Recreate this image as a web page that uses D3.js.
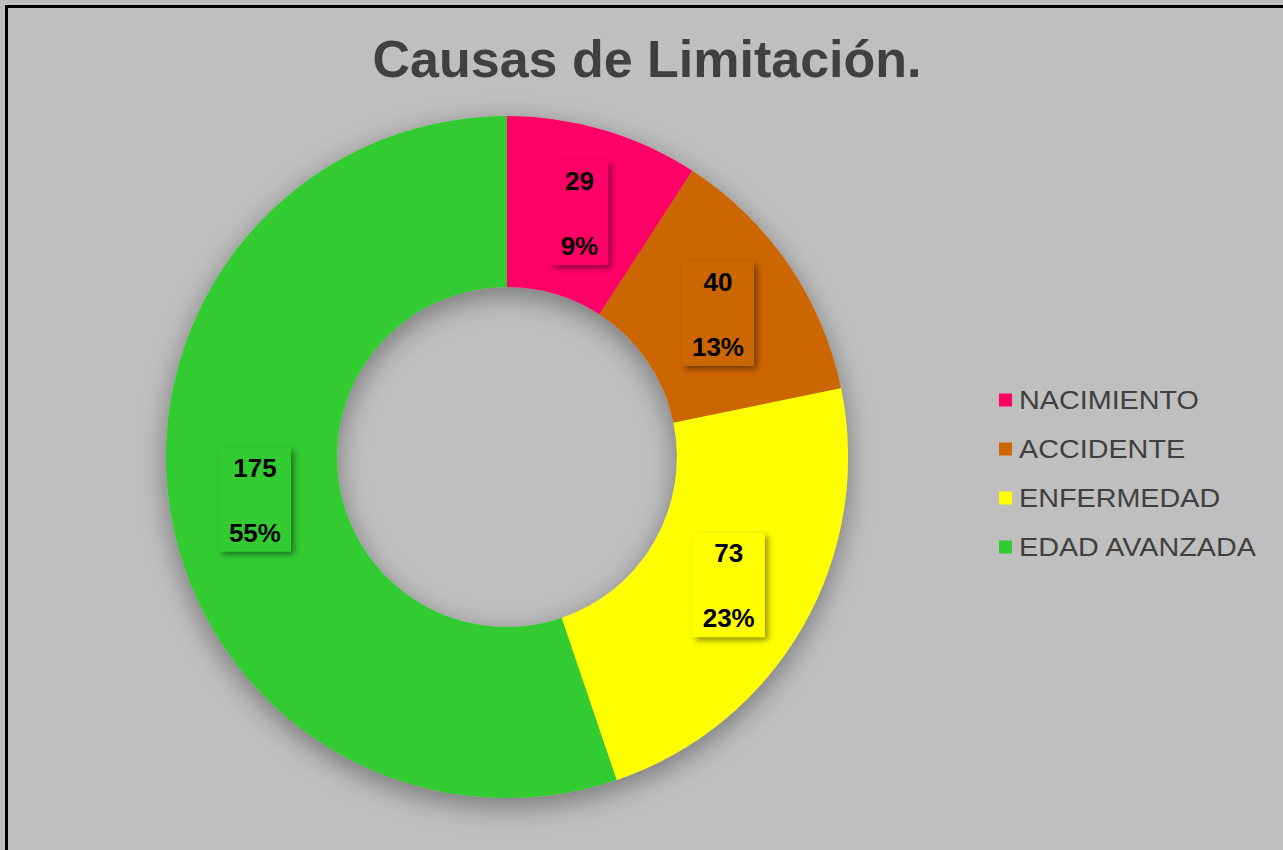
<!DOCTYPE html>
<html>
<head>
<meta charset="utf-8">
<script src="https://cdn.jsdelivr.net/npm/d3@7"></script>
<style>
  html, body { margin: 0; padding: 0; background: #fff; }
  svg { display: block; font-family: "Liberation Sans", Arial, sans-serif; }
</style>
</head>
<body>
<div id="chart"></div>
<script>
const categories = ["NACIMIENTO", "ACCIDENTE", "ENFERMEDAD", "EDAD AVANZADA"];
const values = [29, 40, 73, 175];
const colors = ["#FF0066", "#CC6600", "#FFFF00", "#33CC33"];
const title = "Causas de Limitación.";

const width = 1283, height = 850;
const cx = 507, cy = 457, outerR = 341, innerR = 170;

const svg = d3.select("#chart").append("svg")
  .attr("width", width)
  .attr("height", height);

const defs = svg.append("defs");
const ringShadow = defs.append("filter").attr("id", "ringShadow")
  .attr("x", "-20%").attr("y", "-20%").attr("width", "140%").attr("height", "140%");
ringShadow.append("feDropShadow")
  .attr("dx", 0).attr("dy", 8).attr("stdDeviation", 14)
  .attr("flood-color", "#000").attr("flood-opacity", 0.38);

const boxShadow = defs.append("filter").attr("id", "boxShadow")
  .attr("x", "-30%").attr("y", "-30%").attr("width", "160%").attr("height", "160%");
boxShadow.append("feDropShadow")
  .attr("dx", 3).attr("dy", 3).attr("stdDeviation", 3)
  .attr("flood-color", "#000").attr("flood-opacity", 0.45);

// background and frame (right/bottom edges fall outside the picture)
svg.append("rect")
  .attr("width", width).attr("height", height)
  .attr("fill", "#BFBFBF");
svg.append("rect")
  .attr("x", 6.5).attr("y", 6.5)
  .attr("width", width + 20).attr("height", height + 20)
  .attr("fill", "none").attr("stroke", "#000").attr("stroke-width", 3);

svg.append("text")
  .attr("x", 647).attr("y", 77)
  .attr("text-anchor", "middle")
  .attr("font-size", 52).attr("font-weight", "bold")
  .attr("fill", "#404040")
  .text(title);

const total = d3.sum(values);
const pie = d3.pie().sort(null).value((d) => d.value);
const arc = d3.arc().innerRadius(innerR).outerRadius(outerR);
const data = categories.map((c, i) => ({ name: c, value: values[i], color: colors[i] }));
const arcs = pie(data);

const g = svg.append("g").attr("transform", `translate(${cx},${cy})`);

g.append("g")
  .attr("filter", "url(#ringShadow)")
  .selectAll("path")
  .data(arcs)
  .join("path")
  .attr("d", arc)
  .attr("fill", (d) => d.data.color);

const pct = d3.format(".0%");
const labels = g.selectAll("g.lbl")
  .data(arcs)
  .join("g")
  .attr("class", "lbl")
  .attr("transform", (d) => `translate(${arc.centroid(d)})`);

labels.each(function (d) {
  const sel = d3.select(this);
  const box = sel.append("rect").attr("fill", d.data.color).attr("filter", "url(#boxShadow)");
  const t1 = sel.append("text")
    .attr("y", -22)
    .attr("text-anchor", "middle")
    .attr("font-size", 26).attr("font-weight", "bold").attr("fill", "#000")
    .text(d.data.value);
  const t2 = sel.append("text")
    .attr("y", 43)
    .attr("text-anchor", "middle")
    .attr("font-size", 26).attr("font-weight", "bold").attr("fill", "#000")
    .text(pct(d.data.value / total));
  const w = Math.max(t1.node().getComputedTextLength(), t2.node().getComputedTextLength()) + 20;
  box.attr("x", -w / 2).attr("y", -51).attr("width", w).attr("height", 104);
});

const legend = svg.append("g").attr("transform", "translate(999,400)");
const items = legend.selectAll("g")
  .data(data)
  .join("g")
  .attr("transform", (d, i) => `translate(0,${i * 49})`);
items.append("rect")
  .attr("x", 0).attr("y", -6.5)
  .attr("width", 13).attr("height", 13)
  .attr("fill", (d) => d.color);
items.append("text")
  .attr("transform", "translate(20,9) scale(1.15,1)")
  .attr("font-size", 25)
  .attr("fill", "#404040")
  .text((d) => d.name);
</script>
</body>
</html>
